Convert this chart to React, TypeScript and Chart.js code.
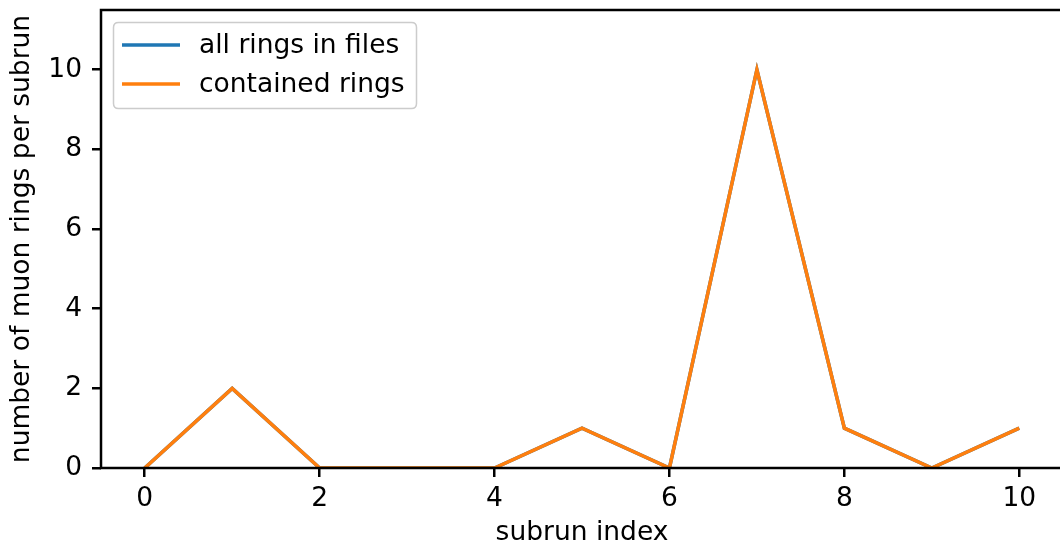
import React, { useEffect, useRef } from "react";
import { Chart, registerables } from "chart.js";

Chart.register(...registerables);

const subrunIndex = [0, 1, 2, 3, 4, 5, 6, 7, 8, 9, 10];
const allRings = [0, 2, 0, 0, 0, 1, 0, 10, 1, 0, 1];
const containedRings = [0, 2, 0, 0, 0, 1, 0, 10, 1, 0, 1];
const xTicks = [0, 2, 4, 6, 8, 10];
const yTicks = [0, 2, 4, 6, 8, 10];
const seriesLabels = ["all rings in files", "contained rings"];
const seriesColors = ["#1f77b4", "#ff7f0e"];

const FONT = "'DejaVu Sans', sans-serif";
const FS = 26.5;

const framePlugin = {
  id: "frameAndLegend",
  afterDatasetsDraw(chart: any) {
    const { ctx, chartArea } = chart;
    ctx.save();
    ctx.strokeStyle = "#000";
    ctx.lineWidth = 2.5;
    ctx.strokeRect(chartArea.left, chartArea.top, chartArea.right - chartArea.left, chartArea.bottom - chartArea.top);
    ctx.restore();
  },
  afterDraw(chart: any) {
    const { ctx } = chart;
    ctx.save();
    const x0 = 113.5, y0 = 22.5, w = 303, h = 86, r = 5;
    ctx.beginPath();
    ctx.moveTo(x0 + r, y0);
    ctx.lineTo(x0 + w - r, y0);
    ctx.quadraticCurveTo(x0 + w, y0, x0 + w, y0 + r);
    ctx.lineTo(x0 + w, y0 + h - r);
    ctx.quadraticCurveTo(x0 + w, y0 + h, x0 + w - r, y0 + h);
    ctx.lineTo(x0 + r, y0 + h);
    ctx.quadraticCurveTo(x0, y0 + h, x0, y0 + h - r);
    ctx.lineTo(x0, y0 + r);
    ctx.quadraticCurveTo(x0, y0, x0 + r, y0);
    ctx.closePath();
    ctx.fillStyle = "rgba(255,255,255,0.8)";
    ctx.fill();
    ctx.strokeStyle = "#cccccc";
    ctx.lineWidth = 1.5;
    ctx.stroke();
    const rows = [45, 84];
    ctx.font = `${FS}px ${FONT}`;
    ctx.textBaseline = "middle";
    ctx.textAlign = "left";
    seriesLabels.forEach((lab, i) => {
      ctx.strokeStyle = seriesColors[i];
      ctx.lineWidth = 3.5;
      ctx.beginPath();
      ctx.moveTo(122, rows[i]);
      ctx.lineTo(180, rows[i]);
      ctx.stroke();
      ctx.fillStyle = "#000";
      ctx.fillText(lab, 199, rows[i] + 1);
    });
    ctx.restore();
  },
};

export default function App() {
  const ref = useRef<HTMLCanvasElement>(null);
  useEffect(() => {
    if (!ref.current) return;
    const tickFont = { family: FONT, size: FS };
    const chart = new Chart(ref.current, {
      type: "line",
      data: {
        datasets: [
          {
            label: seriesLabels[0],
            data: subrunIndex.map((x, i) => ({ x, y: allRings[i] })),
            borderColor: seriesColors[0],
            borderWidth: 3.5,
            pointRadius: 0,
            tension: 0,
            order: 1,
          },
          {
            label: seriesLabels[1],
            data: subrunIndex.map((x, i) => ({ x, y: containedRings[i] })),
            borderColor: seriesColors[1],
            borderWidth: 3.5,
            pointRadius: 0,
            tension: 0,
            order: 0,
          },
        ],
      },
      options: {
        responsive: false,
        animation: false,
        layout: { padding: { top: 10, right: 3, left: 0, bottom: 0 } },
        plugins: { legend: { display: false }, tooltip: { enabled: false } },
        scales: {
          x: {
            type: "linear",
            min: -0.5,
            max: 10.5,
            afterBuildTicks: (s: any) => {
              s.ticks = xTicks.map((v) => ({ value: v }));
            },
            afterFit: (s: any) => {
              s.height = 81;
              s.paddingLeft = 0;
              s.paddingRight = 0;
            },
            grid: { display: true, drawOnChartArea: false, drawTicks: true, tickLength: 9, color: "#000", lineWidth: 2.5 },
            border: { display: false },
            ticks: { color: "#000", font: tickFont, padding: 6, maxRotation: 0 },
            title: { display: true, text: "subrun index", color: "#000", font: tickFont, padding: { top: 0, bottom: 0 } },
          },
          y: {
            type: "linear",
            min: 0,
            max: 11.5,
            afterBuildTicks: (s: any) => {
              s.ticks = yTicks.map((v) => ({ value: v }));
            },
            afterFit: (s: any) => {
              s.width = 101;
              s.paddingTop = 0;
              s.paddingBottom = 0;
            },
            grid: { display: true, drawOnChartArea: false, drawTicks: true, tickLength: 9, color: "#000", lineWidth: 2.5 },
            border: { display: false },
            ticks: { color: "#000", font: tickFont, padding: 10 },
            title: { display: true, text: "number of muon rings per subrun", color: "#000", font: tickFont, padding: { top: 6, bottom: 0 } },
          },
        },
      },
      plugins: [framePlugin],
    });
    return () => chart.destroy();
  }, []);
  return (
    <div style={{ position: "fixed", left: 0, top: 0, width: 1060, height: 549, overflow: "hidden", background: "#fff" }}>
      <canvas ref={ref} width={1066} height={549} style={{ display: "block" }} />
    </div>
  );
}
